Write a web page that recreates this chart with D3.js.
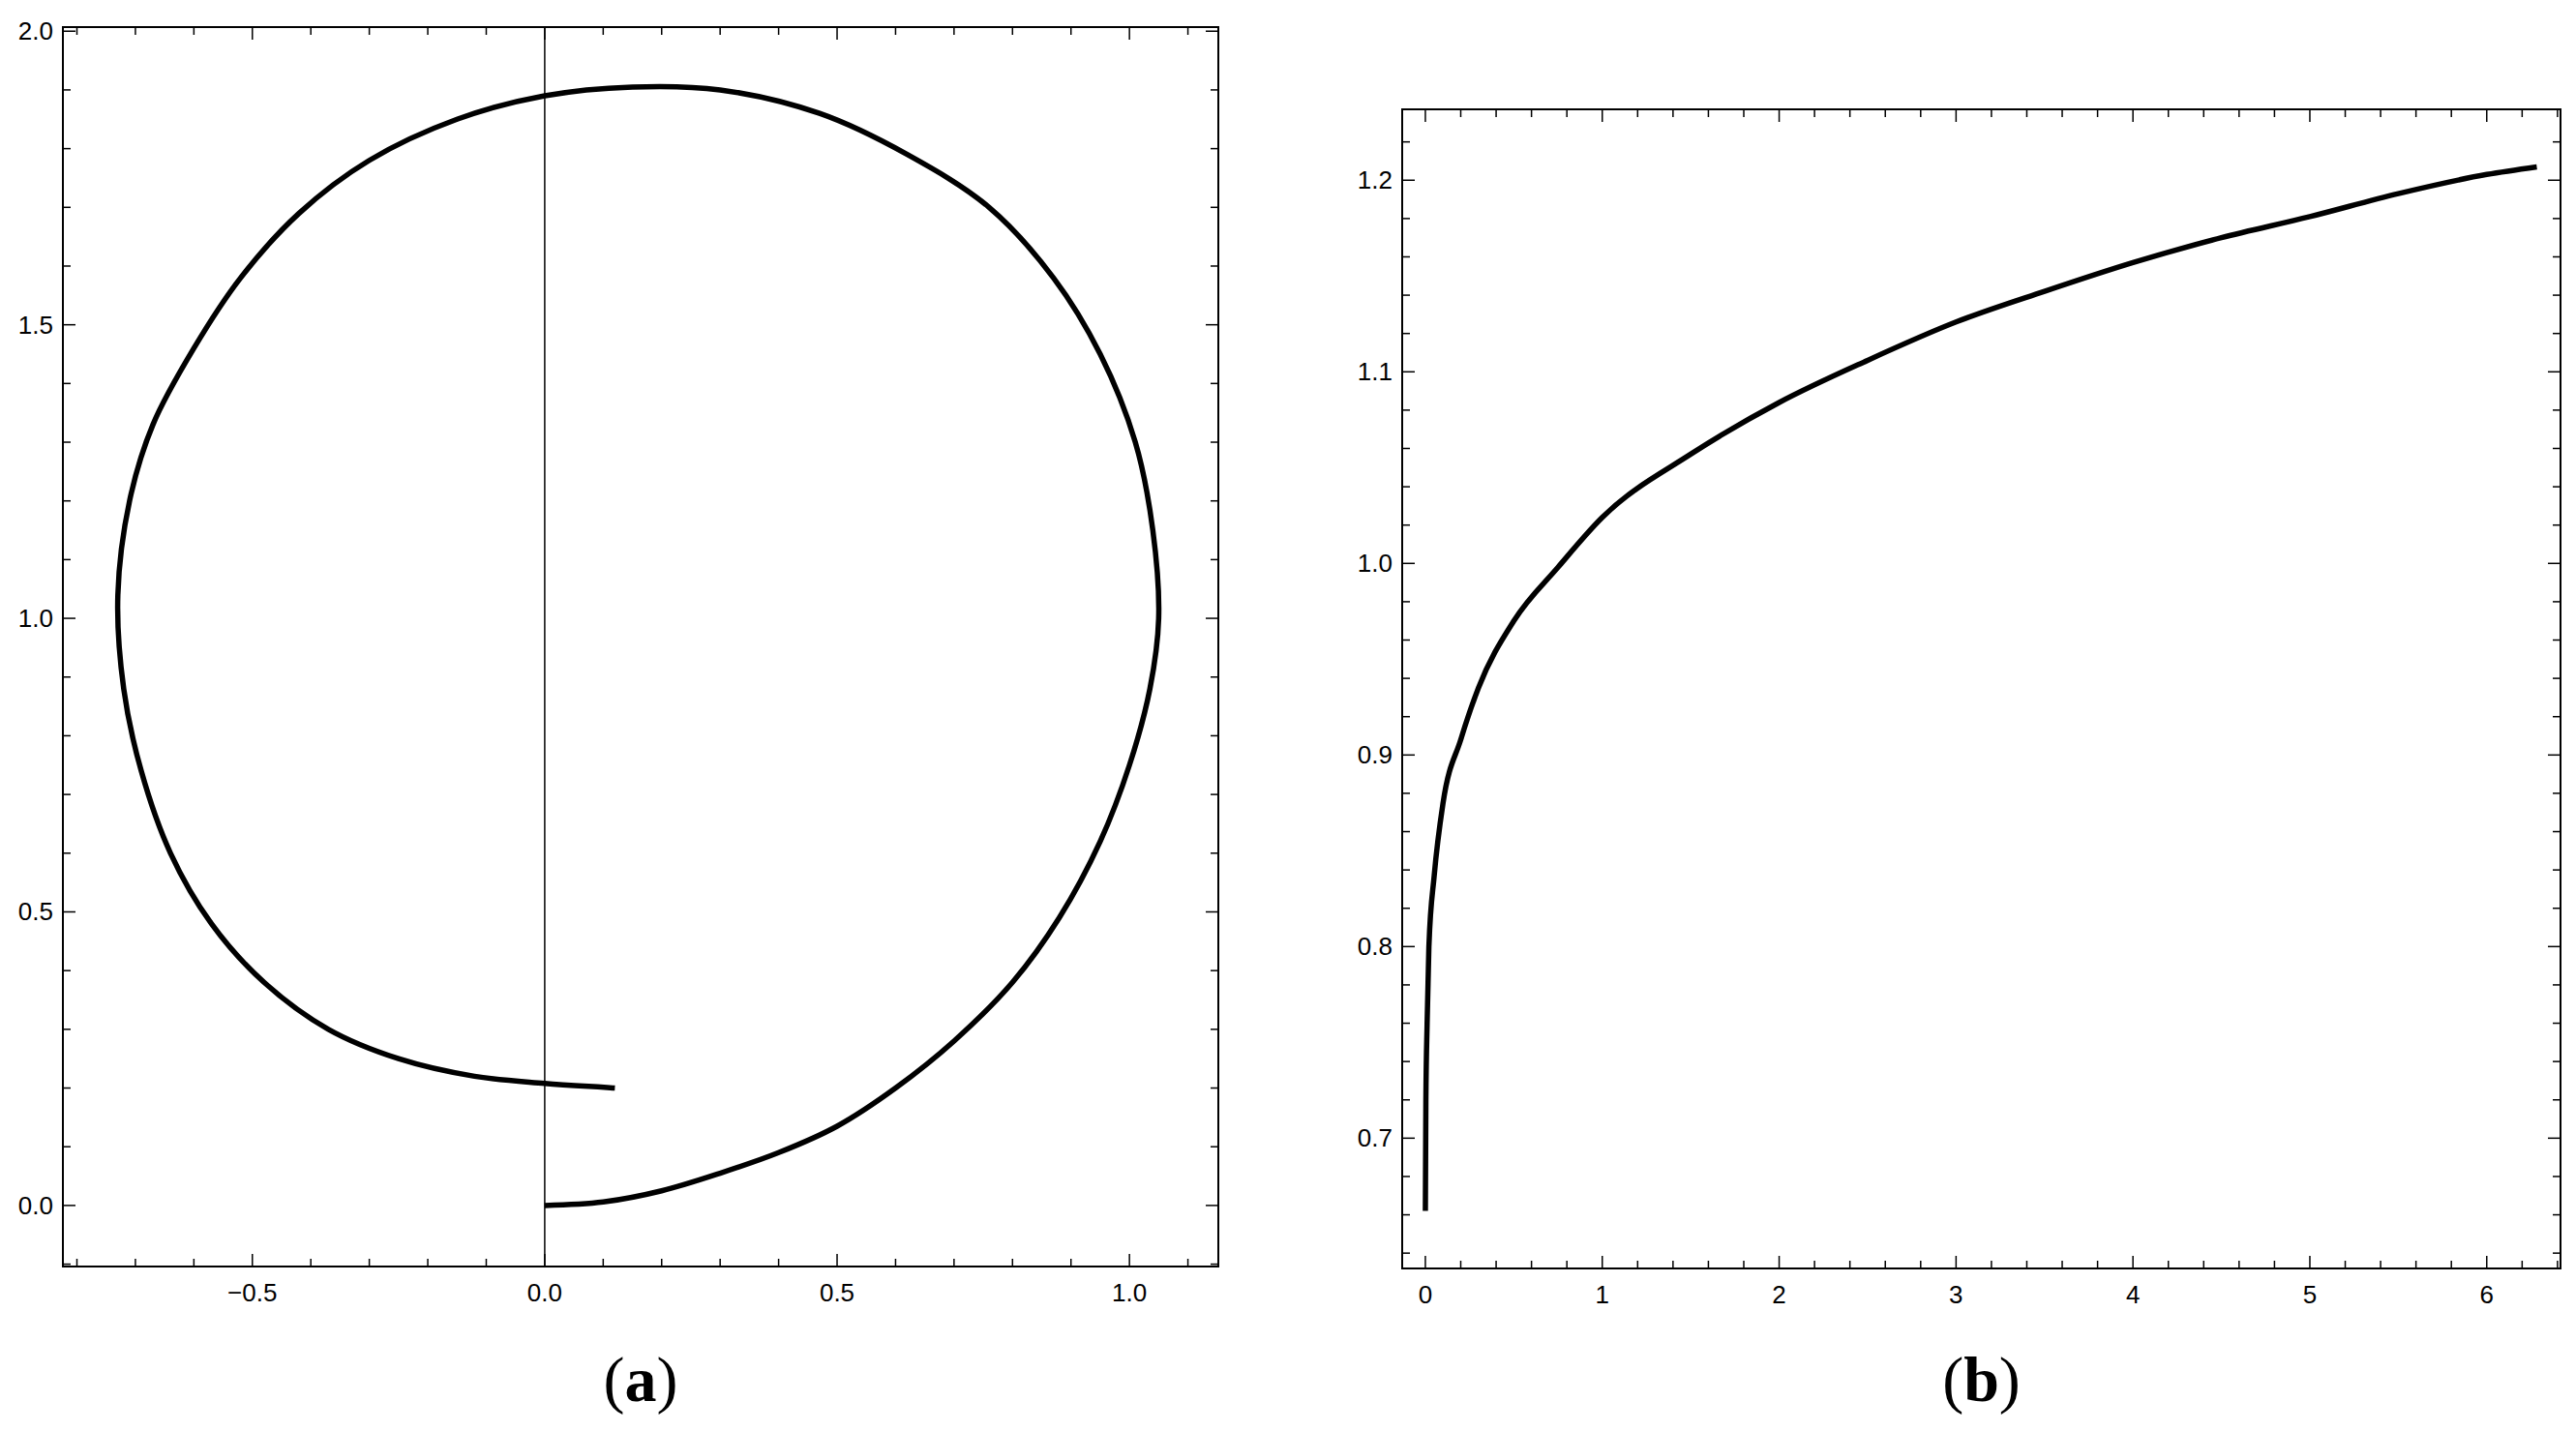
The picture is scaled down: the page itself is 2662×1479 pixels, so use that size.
<!DOCTYPE html>
<html>
<head>
<meta charset="utf-8">
<script src="https://cdn.jsdelivr.net/npm/d3@7"></script>
<style>
  body { margin: 0; background: #fff; }
  text { font-family: "Liberation Sans", Arial, sans-serif; }
</style>
</head>
<body>
<svg id="chart" width="2662" height="1479"></svg>
<script>
// panel (a): parametric curve
var curveA = [
    [0, 0], [0.1, 0.006], [0.2, 0.025], [0.3, 0.055], [0.4, 0.09], [0.5, 0.135],
    [0.6, 0.2], [0.7, 0.28], [0.8, 0.38], [0.88, 0.49], [0.95, 0.62], [1.0, 0.75],
    [1.035, 0.88], [1.05, 1.0], [1.04, 1.15], [1.01, 1.3], [0.95, 1.45], [0.87, 1.58],
    [0.76, 1.70], [0.62, 1.79], [0.47, 1.86], [0.3, 1.9], [0.15, 1.905], [0, 1.89],
    [-0.15, 1.85], [-0.3, 1.78], [-0.42, 1.69], [-0.52, 1.58], [-0.6, 1.46],
    [-0.67, 1.33], [-0.71, 1.2], [-0.73, 1.04], [-0.72, 0.88], [-0.69, 0.74],
    [-0.64, 0.6], [-0.57, 0.48], [-0.48, 0.38], [-0.37, 0.3], [-0.25, 0.25],
    [-0.12, 0.22], [0, 0.208], [0.12, 0.2]
];
// panel (b): y(x) for x in [0, 2pi]
var curveBx = [0, 0.003, 0.01, 0.02, 0.05, 0.1, 0.2, 0.3, 0.5, 0.75, 1, 1.5, 2, 2.5, 3, 3.5, 4, 4.5, 5, 5.5, 6, 6.283];
var curveBy = [0.662, 0.72, 0.76, 0.80, 0.837, 0.875, 0.908, 0.935, 0.97, 0.998, 1.024, 1.057, 1.084, 1.106, 1.126, 1.142, 1.157, 1.17, 1.181, 1.193, 1.203, 1.207];

var aXTicks = [-0.5, 0.0, 0.5, 1.0];
var aYTicks = [0.0, 0.5, 1.0, 1.5, 2.0];
var bXTicks = [0, 1, 2, 3, 4, 5, 6];
var bYTicks = [0.7, 0.8, 0.9, 1.0, 1.1, 1.2];

var svg = d3.select("#chart");

function range(a, b, step) {
    var out = [], n = Math.round((b - a) / step);
    for (var i = 0; i <= n; i++) { out.push(+(a + i * step).toFixed(6)); }
    return out;
}

function drawPanel(opt) {
    var x = d3.scaleLinear().domain(opt.xd).range([opt.l, opt.r]),
        y = d3.scaleLinear().domain(opt.yd).range([opt.b, opt.t]),
        g = svg.append("g");

    var minorX = range(opt.xm[0], opt.xm[1], opt.xm[2]).filter(function (v) { return v >= opt.xd[0] && v <= opt.xd[1]; }),
        minorY = range(opt.ym[0], opt.ym[1], opt.ym[2]).filter(function (v) { return v >= opt.yd[0] && v <= opt.yd[1]; });

    function isMajor(v, list) { return list.some(function (t) { return Math.abs(t - v) < 1e-6; }); }

    // ticks inside the frame on all four sides
    minorX.forEach(function (v) {
        var len = isMajor(v, opt.xt) ? 13 : 8;
        g.append("line").attr("x1", x(v)).attr("x2", x(v)).attr("y1", opt.b).attr("y2", opt.b - len)
            .attr("stroke", "#000").attr("stroke-width", 1.5);
        g.append("line").attr("x1", x(v)).attr("x2", x(v)).attr("y1", opt.t).attr("y2", opt.t + len)
            .attr("stroke", "#000").attr("stroke-width", 1.5);
    });
    minorY.forEach(function (v) {
        var len = isMajor(v, opt.yt) ? 13 : 8;
        g.append("line").attr("y1", y(v)).attr("y2", y(v)).attr("x1", opt.l).attr("x2", opt.l + len)
            .attr("stroke", "#000").attr("stroke-width", 1.5);
        g.append("line").attr("y1", y(v)).attr("y2", y(v)).attr("x1", opt.r).attr("x2", opt.r - len)
            .attr("stroke", "#000").attr("stroke-width", 1.5);
    });

    g.append("rect").attr("x", opt.l).attr("y", opt.t).attr("width", opt.r - opt.l).attr("height", opt.b - opt.t)
        .attr("fill", "none").attr("stroke", "#000").attr("stroke-width", 2);

    g.selectAll(".xl").data(opt.xt).enter().append("text")
        .attr("x", function (d) { return x(d); }).attr("y", opt.b + 36)
        .attr("text-anchor", "middle").attr("font-size", 26)
        .text(function (d) { return d3.format(opt.xf)(d).replace("-", "\u2212"); });
    g.selectAll(".yl").data(opt.yt).enter().append("text")
        .attr("x", opt.l - 10).attr("y", function (d) { return y(d) + 9; })
        .attr("text-anchor", "end").attr("font-size", 26)
        .text(function (d) { return d3.format(opt.yf)(d); });

    g.append("text").attr("x", (opt.l + opt.r) / 2).attr("y", 1448)
        .attr("text-anchor", "middle").attr("font-size", 66)
        .style("font-family", "'Liberation Serif', 'DejaVu Serif', serif")
        .html("(<tspan font-weight='bold'>" + opt.label + "</tspan>)");

    return { g: g, x: x, y: y };
}

var pa = drawPanel({
    l: 65, r: 1259, t: 28, b: 1309,
    xd: [-0.824, 1.152], yd: [-0.104, 2.007],
    xt: aXTicks, yt: aYTicks, xm: [-0.8, 1.1, 0.1], ym: [-0.1, 2.0, 0.1],
    xf: ".1f", yf: ".1f", label: "a"
});
pa.g.append("line").attr("x1", pa.x(0)).attr("x2", pa.x(0)).attr("y1", 28).attr("y2", 1309)
    .attr("stroke", "#000").attr("stroke-width", 1.5);
pa.g.append("path").datum(curveA)
    .attr("d", d3.line().x(function (d) { return pa.x(d[0]); }).y(function (d) { return pa.y(d[1]); }).curve(d3.curveCatmullRom))
    .attr("fill", "none").attr("stroke", "#000").attr("stroke-width", 5.5);

var pb = drawPanel({
    l: 1449, r: 2646, t: 113, b: 1311,
    xd: [-0.131, 6.417], yd: [0.632, 1.237],
    xt: bXTicks, yt: bYTicks, xm: [0, 6.4, 0.2], ym: [0.64, 1.22, 0.02],
    xf: "d", yf: ".1f", label: "b"
});
pb.g.append("path").datum(d3.zip(curveBx, curveBy))
    .attr("d", d3.line().x(function (d) { return pb.x(d[0]); }).y(function (d) { return pb.y(d[1]); }).curve(d3.curveMonotoneX))
    .attr("fill", "none").attr("stroke", "#000").attr("stroke-width", 5.5);
</script>
</body>
</html>
